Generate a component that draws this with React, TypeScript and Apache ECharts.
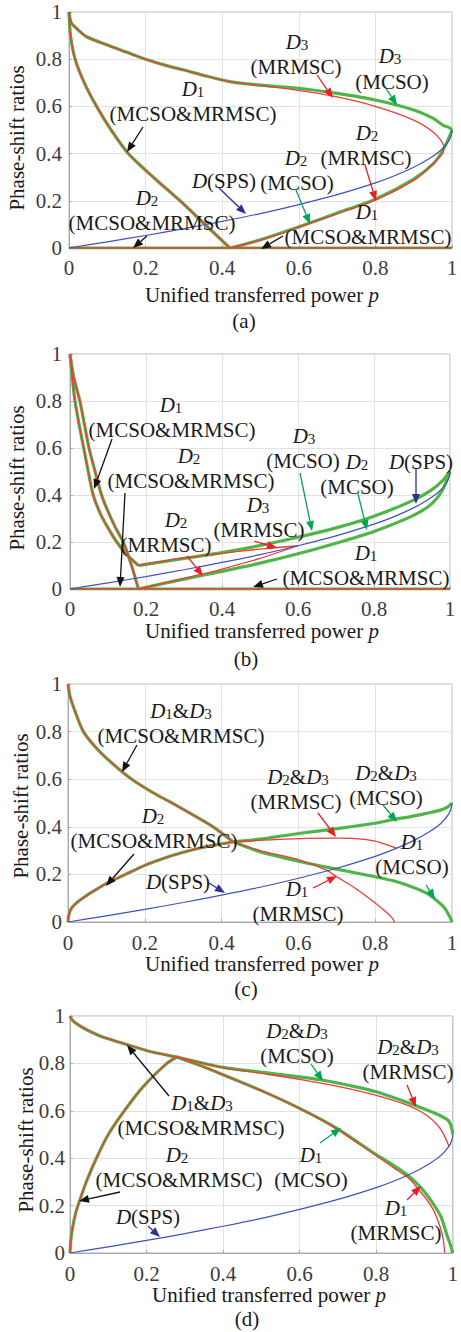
import React, { useEffect, useRef } from "react";
import * as echarts from "echarts";

type Pt = [number, number];

// ---------- data ----------
const xTickValues = [0, 0.2, 0.4, 0.6, 0.8, 1];

// D(SPS): identical in all four panels
const sps: Pt[] = [[0,0],[0.1,0.026],[0.2,0.053],[0.3,0.082],[0.4,0.113],[0.5,0.146],[0.6,0.184],[0.7,0.226],[0.8,0.276],[0.85,0.306],[0.9,0.342],[0.94,0.378],[0.97,0.413],[0.99,0.45],[0.998,0.478],[1,0.5]];
const zeroLine: Pt[] = [[0,0],[1,0]];

// (a)
const aTop: Pt[] = [[0,1],[0.003,0.97],[0.007,0.952],[0.02,0.93],[0.046,0.895],[0.1,0.86],[0.15,0.83],[0.2,0.8],[0.25,0.775],[0.3,0.754],[0.36,0.728],[0.42,0.705]];
const aD3Mcso: Pt[] = [[0.42,0.705],[0.5,0.69],[0.6,0.677],[0.7,0.655],[0.8,0.627],[0.9,0.585],[0.95,0.55],[0.977,0.52],[0.993,0.51],[1,0.5]];
const aMrmscLoop: Pt[] = [[0.42,0.705],[0.5,0.688],[0.6,0.668],[0.7,0.64],[0.8,0.6],[0.9,0.542],[0.95,0.493],[0.97,0.458],[0.978,0.43],[0.975,0.4],[0.96,0.372],[0.908,0.295],[0.8,0.203],[0.7,0.145],[0.63,0.105],[0.5,0.033],[0.42,0]];
const aD2Mcso: Pt[] = [[0.42,0],[0.5,0.035],[0.63,0.107],[0.7,0.148],[0.8,0.207],[0.9,0.292],[0.95,0.355],[0.975,0.41],[0.99,0.46],[1,0.5]];
const aD1: Pt[] = [[0,1],[0.004,0.9],[0.016,0.8],[0.04,0.7],[0.072,0.6],[0.11,0.5],[0.155,0.4],[0.22,0.3],[0.29,0.2],[0.355,0.1],[0.42,0]];

// (b)
const bLeft: Pt[] = [[0,1],[0.006,0.9],[0.013,0.8],[0.024,0.7],[0.036,0.6],[0.048,0.5],[0.061,0.4],[0.08,0.32],[0.1,0.26],[0.123,0.2],[0.15,0.145],[0.18,0.1]];
const bRight: Pt[] = [[0,1],[0.01,0.9],[0.026,0.8],[0.038,0.7],[0.05,0.6],[0.066,0.5],[0.083,0.4],[0.1,0.33],[0.12,0.26],[0.14,0.2],[0.162,0.1],[0.18,0]];
const bUpperMcso: Pt[] = [[0.18,0.1],[0.2,0.105],[0.3,0.13],[0.4,0.155],[0.5,0.185],[0.6,0.22],[0.7,0.26],[0.8,0.31],[0.9,0.375],[0.95,0.42],[0.98,0.46],[1,0.5]];
const bLowerMcso: Pt[] = [[0.18,0],[0.25,0.025],[0.3,0.042],[0.4,0.075],[0.5,0.11],[0.6,0.15],[0.7,0.195],[0.8,0.245],[0.9,0.31],[0.95,0.36],[0.98,0.42],[1,0.5]];
const bUpperMrmsc: Pt[] = [[0.18,0.1],[0.3,0.132],[0.4,0.152],[0.5,0.17],[0.6,0.184]];
const bLowerMrmsc: Pt[] = [[0.18,0],[0.3,0.045],[0.4,0.085],[0.5,0.13],[0.6,0.184]];

// (c)
const cD13: Pt[] = [[0,1],[0.005,0.95],[0.015,0.9],[0.04,0.8],[0.08,0.72],[0.12,0.66],[0.166,0.6],[0.22,0.545],[0.282,0.49],[0.33,0.446],[0.378,0.4],[0.43,0.337]];
const cD2: Pt[] = [[0,0],[0.001,0.02],[0.004,0.04],[0.01,0.06],[0.02,0.077],[0.03,0.09],[0.05,0.113],[0.075,0.138],[0.1,0.162],[0.15,0.2],[0.2,0.238],[0.25,0.268],[0.3,0.293],[0.35,0.313],[0.4,0.328],[0.43,0.337]];
const cD1Mcso: Pt[] = [[0.43,0.337],[0.5,0.295],[0.6,0.255],[0.7,0.222],[0.8,0.19],[0.85,0.172],[0.9,0.145],[0.935,0.12],[0.96,0.09],[0.98,0.06],[0.995,0.02],[1,0]];
const cD1Mrmsc: Pt[] = [[0.43,0.337],[0.5,0.3],[0.6,0.262],[0.673,0.218],[0.7,0.19],[0.75,0.14],[0.8,0.08],[0.83,0.04],[0.845,0.015],[0.85,0]];
const cD23Mcso: Pt[] = [[0.43,0.337],[0.5,0.348],[0.6,0.372],[0.7,0.392],[0.8,0.415],[0.845,0.43],[0.9,0.445],[0.932,0.456],[0.97,0.47],[0.99,0.485],[1,0.5]];
const cD23Mrmsc: Pt[] = [[0.43,0.337],[0.5,0.343],[0.6,0.35],[0.7,0.352],[0.75,0.35],[0.8,0.34],[0.83,0.325],[0.857,0.309]];

// (d)
const dTop: Pt[] = [[0,1],[0.005,0.985],[0.015,0.97],[0.04,0.945],[0.08,0.915],[0.15,0.879],[0.215,0.848],[0.279,0.827]];
const dD23Mcso: Pt[] = [[0.279,0.827],[0.4,0.783],[0.5,0.763],[0.6,0.743],[0.653,0.731],[0.75,0.7],[0.8,0.68],[0.885,0.633],[0.93,0.605],[0.962,0.584],[0.988,0.56],[0.997,0.53],[1,0.5]];
const dD23Mrmsc: Pt[] = [[0.279,0.827],[0.4,0.782],[0.5,0.758],[0.6,0.733],[0.7,0.703],[0.8,0.665],[0.889,0.619],[0.93,0.583],[0.96,0.54],[0.975,0.505],[0.985,0.47],[0.99,0.45]];
const dD1Mcso: Pt[] = [[0.279,0.827],[0.35,0.785],[0.4,0.752],[0.5,0.685],[0.6,0.61],[0.696,0.527],[0.8,0.415],[0.85,0.365],[0.885,0.325],[0.92,0.27],[0.95,0.205],[0.97,0.15],[0.985,0.075],[0.995,0.03],[1,0]];
const dD1Mrmsc: Pt[] = [[0.279,0.827],[0.35,0.785],[0.4,0.752],[0.5,0.685],[0.6,0.61],[0.696,0.525],[0.8,0.41],[0.85,0.355],[0.885,0.315],[0.902,0.285],[0.93,0.23],[0.95,0.18],[0.965,0.12],[0.975,0.06],[0.979,0]];
const dD2: Pt[] = [[0,0],[0.002,0.05],[0.006,0.1],[0.015,0.17],[0.026,0.225],[0.045,0.31],[0.069,0.4],[0.1,0.5],[0.142,0.6],[0.19,0.7],[0.253,0.8],[0.279,0.827]];

// annotation texts: [x, y, text]
const labelsA: [number, number, string][] = [
  [297,42,"D_3"],[296,67,"(MRMSC)"],
  [390,56,"D_3"],[392,82,"(MCSO)"],
  [193,89,"D_1"],[193,114,"(MCSO&MRMSC)"],
  [367,133,"D_2"],[366,158,"(MRMSC)"],
  [296,158,"D_2"],[297,183,"(MCSO)"],
  [224,181,"D(SPS)"],
  [147,198,"D_2"],[152,223,"(MCSO&MRMSC)"],
  [367,212,"D_1"],[368,237,"(MCSO&MRMSC)"],
];
const labelsB: [number, number, string][] = [
  [171,405,"D_1"],[172,430,"(MCSO&MRMSC)"],
  [189,456,"D_2"],[191,481,"(MCSO&MRMSC)"],
  [304,436,"D_3"],[303,461,"(MCSO)"],
  [357,462,"D_2"],[357,487,"(MCSO)"],
  [421,462,"D(SPS)"],
  [258,505,"D_3"],[259,530,"(MRMSC)"],
  [176,520,"D_2"],[166,545,"(MRMSC)"],
  [366,553,"D_1"],[366,578,"(MCSO&MRMSC)"],
];
const labelsC: [number, number, string][] = [
  [181,711,"D_1&D_3"],[181,736,"(MCSO&MRMSC)"],
  [153,816,"D_2"],[154,841,"(MCSO&MRMSC)"],
  [298,777,"D_2&D_3"],[296,802,"(MRMSC)"],
  [386,773,"D_2&D_3"],[386,798,"(MCSO)"],
  [412,842,"D_1"],[412,867,"(MCSO)"],
  [178,882,"D(SPS)"],
  [297,889,"D_1"],[298,914,"(MRMSC)"],
];
const labelsD: [number, number, string][] = [
  [297,1031,"D_2&D_3"],[297,1056,"(MCSO)"],
  [408,1047,"D_2&D_3"],[408,1072,"(MRMSC)"],
  [202,1103,"D_1&D_3"],[201,1128,"(MCSO&MRMSC)"],
  [177,1155,"D_2"],[179,1180,"(MCSO&MRMSC)"],
  [311,1155,"D_1"],[311,1180,"(MCSO)"],
  [148,1217,"D(SPS)"],
  [396,1208,"D_1"],[396,1233,"(MRMSC)"],
];

// arrows: [x1, y1, x2(tip), y2(tip), colour key]
const arrows: [number, number, number, number, string][] = [
  [317,75,333,98,"r"],[385,87,397,105,"g"],[143,127,127,152,"k"],[365,165,376,201,"r"],
  [219,188,246,214,"b"],[296,190,310,224,"g"],[147,236,133,248,"k"],[283,236,261,249,"k"],
  [112,439,94,489,"k"],[125,493,120,587,"k"],[300,473,312,531,"g"],[358,494,367,530,"g"],
  [416,469,416,504,"b"],[254,541,277,548,"r"],[187,556,203,576,"r"],[277,579,253,587,"k"],
  [137,745,122,772,"k"],[134,854,106,886,"k"],[318,813,336,837,"r"],[383,805,397,822,"g"],
  [426,885,435,899,"g"],[209,883,225,893,"b"],[313,888,337,876,"r"],
  [311,1064,323,1081,"g"],[407,1085,416,1107,"r"],[169,1096,127,1045,"k"],[120,1192,79,1201,"k"],
  [320,1143,341,1128,"g"],[148,1226,160,1237,"b"],[407,1200,421,1186,"r"],
];

// ---------- styling ----------
const FONT = "'Liberation Serif', 'Times New Roman', serif";
const TXT = "#1a1a1a";
const GREEN = "#4fb548";
const RED = "#f23a3a";
const BLUE = "#4152b8";
const ARROW: Record<string, string> = { r: "#ee1c25", g: "#00a651", b: "#2e3192", k: "#111111" };

const grids = [
  { left: 69, top: 12, width: 383, height: 236 },
  { left: 70, top: 354, width: 380, height: 235 },
  { left: 68, top: 684, width: 384, height: 238 },
  { left: 70, top: 1016, width: 388, height: 237 },
];
const xLabelMargins = [9, 9, 10, 10];
const yLabelMargins = [7, 8, 6, 5];
const yTitles = [[17, 138], [17, 478], [21, 806], [26, 1140]];
const xTitles = [[262, 295], [262, 631], [262, 964], [269, 1295]];
const captions = [[244, 321, "(a)"], [246, 659, "(b)"], [246, 989, "(c)"], [247, 1319, "(d)"]];

const RICH: any = {
  n: { fontFamily: FONT, fontSize: 21, lineHeight: 20, color: TXT },
  i: { fontFamily: FONT, fontSize: 21, lineHeight: 20, fontStyle: "italic", color: TXT },
  s: { fontFamily: FONT, fontSize: 15, lineHeight: 10, verticalAlign: "bottom", color: TXT },
};

function toRich(t: string): string {
  let out = "";
  let buf = "";
  for (let k = 0; k < t.length; k++) {
    const c = t[k];
    if (c === "D") {
      if (buf) { out += `{n|${buf}}`; buf = ""; }
      out += "{i|D}";
      if (t[k + 1] === "_") { out += `{s|${t[k + 2]}}`; k += 2; }
    } else buf += c;
  }
  if (buf) out += `{n|${buf}}`;
  return out;
}

function textEl(x: number, y: number, text: string, extra: any = {}) {
  return {
    type: "text", x, y, silent: true, z: 100, ...extra,
    style: {
      text, rich: RICH, fontFamily: FONT, fontSize: 21, lineHeight: 20, fill: TXT,
      align: "center", verticalAlign: "middle", textAlign: "center", textVerticalAlign: "middle",
    },
  };
}

function arrowEls(x1: number, y1: number, x2: number, y2: number, color: string) {
  const dx = x2 - x1, dy = y2 - y1;
  const L = Math.hypot(dx, dy);
  const ux = dx / L, uy = dy / L;
  const hl = 10, hw = 4;
  const bx = x2 - ux * hl, by = y2 - uy * hl;
  return [
    { type: "line", silent: true, z: 90, shape: { x1, y1, x2: bx, y2: by }, style: { stroke: color, lineWidth: 1.3 } },
    { type: "polygon", silent: true, z: 90, shape: { points: [[x2, y2], [bx - uy * hw, by + ux * hw], [bx + uy * hw, by - ux * hw]] }, style: { fill: color } },
  ];
}

function line(gi: number, data: Pt[], color: string, width: number, z: number) {
  return {
    type: "line", xAxisIndex: gi, yAxisIndex: gi, data, showSymbol: false, symbol: "none",
    smooth: 0.25, silent: true, z, lineStyle: { color, width }, emphasis: { disabled: true },
  };
}
const G = (gi: number, d: Pt[]) => line(gi, d, GREEN, 3.2, 2);
const R = (gi: number, d: Pt[]) => line(gi, d, RED, 1.3, 3);
const B = (gi: number, d: Pt[]) => line(gi, d, BLUE, 1.2, 4);

export default function App() {
  const ref = useRef<HTMLDivElement>(null);
  useEffect(() => {
    if (!ref.current) return;
    const chart = echarts.init(ref.current, undefined, { renderer: "svg" });

    const series: any[] = [
      // (a)
      G(0, [...aTop, ...aD3Mcso.slice(1)]), G(0, aD2Mcso), G(0, aD1), G(0, zeroLine),
      R(0, [...aTop, ...aMrmscLoop.slice(1)]), R(0, aD1), R(0, zeroLine), B(0, sps),
      // (b)
      G(1, bLeft), G(1, bRight), G(1, bUpperMcso), G(1, bLowerMcso), G(1, zeroLine),
      R(1, bLeft), R(1, bRight), R(1, bUpperMrmsc), R(1, bLowerMrmsc), R(1, zeroLine), B(1, sps),
      // (c)
      G(2, cD13), G(2, cD2), G(2, cD1Mcso), G(2, cD23Mcso),
      R(2, cD13), R(2, cD2), R(2, cD1Mrmsc), R(2, cD23Mrmsc), B(2, sps),
      // (d)
      G(3, [...dTop, ...dD23Mcso.slice(1)]), G(3, dD1Mcso), G(3, dD2),
      R(3, [...dTop, ...dD23Mrmsc.slice(1)]), R(3, dD1Mrmsc), R(3, dD2), B(3, sps),
    ];

    const graphics: any[] = [];
    [labelsA, labelsB, labelsC, labelsD].forEach((ls) =>
      ls.forEach(([x, y, t]) => graphics.push(textEl(x, y, toRich(t))))
    );
    arrows.forEach(([x1, y1, x2, y2, c]) => graphics.push(...arrowEls(x1, y1, x2, y2, ARROW[c])));
    yTitles.forEach(([x, y]) => graphics.push(textEl(x, y, "{n|Phase-shift ratios}", { rotation: Math.PI / 2 })));
    xTitles.forEach(([x, y]) => graphics.push(textEl(x, y, "{n|Unified transferred power }{i|p}")));
    captions.forEach(([x, y, t]) => graphics.push(textEl(x as number, y as number, `{n|${t}}`)));

    const axisLabel = (margin: number) => ({
      show: true, fontFamily: FONT, fontSize: 21, lineHeight: 21, color: "#3c3c3c", margin,
      showMinLabel: true, showMaxLabel: true,
      formatter: (v: number) => String(Math.round(v * 10) / 10),
    });

    chart.setOption({
      animation: false,
      backgroundColor: "#ffffff",
      grid: grids.map((g) => ({ ...g, show: true, borderColor: "#b4b4b4", borderWidth: 1, backgroundColor: "transparent" })),
      xAxis: grids.map((_, i) => ({
        type: "value", gridIndex: i, min: xTickValues[0], max: xTickValues[xTickValues.length - 1], interval: 0.2,
        axisLine: { show: true, onZero: false, lineStyle: { color: "#a8a8a8" } },
        axisTick: { show: true, inside: true, length: 3, lineStyle: { color: "#a8a8a8" } },
        splitLine: { show: true, lineStyle: { color: "#e2e2e2", width: 1 } },
        axisLabel: axisLabel(xLabelMargins[i]),
      })),
      yAxis: grids.map((_, i) => ({
        type: "value", gridIndex: i, min: 0, max: 1, interval: 0.2,
        axisLine: { show: true, onZero: false, lineStyle: { color: "#a8a8a8" } },
        axisTick: { show: true, inside: true, length: 3, lineStyle: { color: "#a8a8a8" } },
        splitLine: { show: true, lineStyle: { color: "#e2e2e2", width: 1 } },
        axisLabel: axisLabel(yLabelMargins[i]),
      })),
      series,
      graphic: { elements: graphics },
    });
    return () => chart.dispose();
  }, []);
  return (
    <div
      ref={ref}
      style={{ position: "absolute", left: 0, top: 0, width: 461, height: 1332, background: "#fff" }}
    />
  );
}
